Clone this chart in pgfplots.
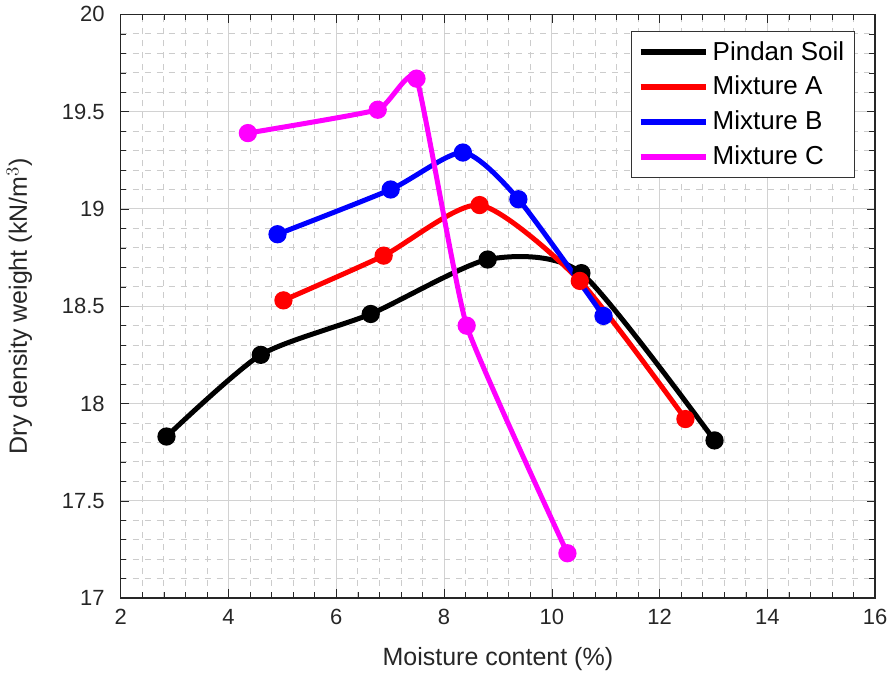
\documentclass[border=0pt]{standalone}
\usepackage{pgfplots}
\pgfplotsset{compat=1.18}
\usepackage{fontspec}
\setmainfont{Liberation Sans}
\definecolor{pmag}{rgb}{1,0,1}
\begin{document}
\begin{tikzpicture}
\begin{axis}[
  scale only axis,
  width=377.5pt, height=292pt,
  xmin=2, xmax=16, ymin=17, ymax=20,
  xtick={2,4,...,16},
  ytick={17,17.5,...,20},
  minor x tick num=4,
  minor y tick num=4,
  grid=both,
  major grid style={gray!35, line width=0.5pt},
  minor grid style={gray!40, dashed, line width=0.4pt},
  axis line style={line width=0.8pt, black!85},
  tick style={black!85},
  /pgf/number format/assume math mode=true,
  yticklabel style={/pgf/number format/fixed, /pgf/number format/precision=1, xshift=-4.5pt},
  xticklabel style={yshift=-2pt},
  ticklabel style={font=\fontsize{11}{13}\selectfont, color=black!85},
  xlabel={Moisture content (\%)},
  ylabel={Dry density weight (kN/m$^3$)},
  ylabel style={yshift=8pt},
  xlabel style={yshift=-4.5pt},
  label style={font=\fontsize{12.5}{14}\selectfont, color=black!85},
  legend style={at={(0.973,0.972)}, anchor=north east, font=\fontsize{13}{15}\selectfont,
    draw=black!80, line width=0.6pt, inner sep=3pt, row sep=2.5pt},
  legend cell align=left,
  legend image code/.code={\draw[#1, line width=2.8pt] (0cm,0cm) -- (1.15cm,0cm);},
  every axis plot/.append style={line width=2.5pt, smooth, tension=0.4, mark=*, mark size=3.3pt},
]
\addplot[black] coordinates {(2.85,17.83) (4.60,18.25) (6.64,18.46) (8.81,18.74) (10.55,18.67) (13.02,17.81)};
\addlegendentry{Pindan Soil}
\addplot[red] coordinates {(5.02,18.53) (6.88,18.76) (8.66,19.02) (10.52,18.63) (12.48,17.92)};
\addlegendentry{Mixture A}
\addplot[blue] coordinates {(4.91,18.87) (7.01,19.10) (8.35,19.29) (9.38,19.05) (10.96,18.45)};
\addlegendentry{Mixture B}
\addplot[pmag, tension=0.25] coordinates {(4.36,19.39) (6.77,19.51) (7.49,19.67) (8.42,18.40) (10.29,17.23)};
\addlegendentry{Mixture C}
\end{axis}
\end{tikzpicture}
\end{document}
